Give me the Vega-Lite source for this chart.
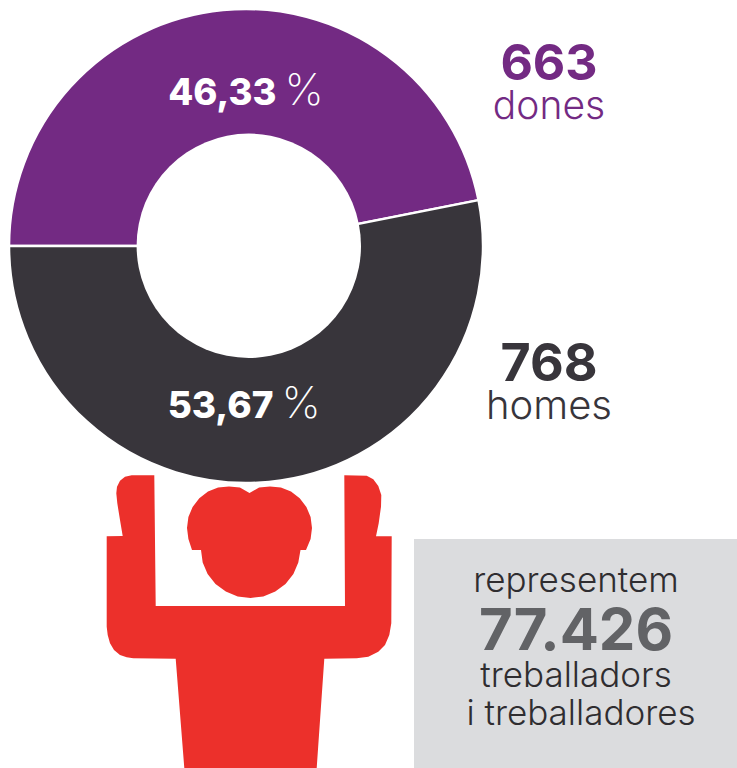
{"$schema":"https://vega.github.io/schema/vega-lite/v6.json","width":737,"height":768,"padding":0,"autosize":{"type":"none"},"background":"white","view":{"stroke":null},"config":{"text":{"font":"Inter","baseline":"alphabetic"}},
"layer":[
{"data":{"values":[{"type":"Feature","properties":{"part":"box"},"geometry":{"type":"Polygon","coordinates":[[[414,539],[737,539],[737,768],[414,768],[414,539]]]}}]},"mark":{"type":"geoshape","fill":"#DBDCDE","stroke":null},"projection":{"type":"identity","scale":1,"translate":[0,0]}},
{"data":{"values":[{"type":"Feature","properties":{"part":"body"},"geometry":{"type":"Polygon","coordinates":[[[154.3,475.3],[131.7,475.3],[125,476.7],[120,480.7],[117,486.7],[116.3,493.3],[117.3,503.3],[120,520],[122.7,536],[106.7,536.3],[106.7,626.7],[107.7,635],[110,643.3],[114,650],[120,655],[126.7,657.3],[133.3,658.3],[175.7,658.7],[184.3,768],[316.7,768],[324.3,658.7],[356.7,658.3],[368.3,656.7],[378.3,651.7],[385,645],[389.3,635],[391.3,623.3],[391.7,536.3],[376,536.3],[378.7,523.3],[381,506.7],[381.3,495],[378.3,486],[373.3,479.3],[366.7,475.7],[344.3,475.3],[345,606],[155.7,606],[154.3,475.3]]]}},{"type":"Feature","properties":{"part":"head"},"geometry":{"type":"Polygon","coordinates":[[[249.5,493],[259.1,487.6],[270,486.5],[280.9,487.4],[291,491.6],[299.7,498.3],[306.4,507],[310.6,517.1],[312,528],[310.6,538.9],[306,550],[300.5,550],[298.3,562.4],[293.4,574],[285.5,584],[275.3,591.6],[263.3,596.4],[250.5,598],[237.7,596.4],[225.8,591.6],[215.5,584],[207.6,574],[202.7,562.4],[201,550],[192,550],[188.4,538.9],[187,528],[188.4,517.1],[192.6,507],[199.3,498.3],[208,491.6],[218.1,487.4],[229,486.5],[239.9,487.6],[249.5,493]]]}}]},"mark":{"type":"geoshape","fill":"#EC302B","stroke":null},"projection":{"type":"identity","scale":1,"translate":[0,0]}},
{"data":{"values":[{"grup":"dones","share":46.9},{"grup":"homes","share":53.1}]},"mark":{"type":"arc","x":246,"y":246,"outerRadius":237,"innerRadius":0,"stroke":"white","strokeWidth":2.5},"encoding":{"theta":{"field":"share","type":"quantitative","stack":true,"scale":{"range":[-1.5708,4.7124]}},"color":{"field":"grup","type":"nominal","legend":null,"scale":{"domain":["dones","homes"],"range":["#732A83","#38353B"]}},"order":{"field":"grup"}}},
{"data":{"values":[{"part":"hole"}]},"mark":{"type":"arc","x":248.8,"y":245.8,"outerRadius":112.2,"innerRadius":0,"theta":0,"theta2":6.2832,"fill":"white"},"encoding":{}},
{"data":{"values":[{"t":"46,33"}]},"mark":{"type":"text","x":276.5,"y":105,"align":"right","fontSize":36.5,"fontWeight":800,"fill":"white"},"encoding":{"text":{"field":"t"}}},
{"data":{"values":[{"t":"%"}]},"mark":{"type":"text","x":284.5,"y":105,"align":"left","fontSize":44,"fontWeight":200,"fill":"white"},"encoding":{"text":{"field":"t"}}},
{"data":{"values":[{"t":"53,67"}]},"mark":{"type":"text","x":273.5,"y":418,"align":"right","fontSize":37,"fontWeight":800,"fill":"white"},"encoding":{"text":{"field":"t"}}},
{"data":{"values":[{"t":"%"}]},"mark":{"type":"text","x":281.5,"y":418,"align":"left","fontSize":44,"fontWeight":200,"fill":"white"},"encoding":{"text":{"field":"t"}}},
{"data":{"values":[{"t":"663"}]},"mark":{"type":"text","x":549,"y":80,"align":"center","fontSize":50,"fontWeight":700,"fill":"#732A83"},"encoding":{"text":{"field":"t"}}},
{"data":{"values":[{"t":"dones"}]},"mark":{"type":"text","x":549,"y":119,"align":"center","fontSize":39,"fontWeight":300,"fill":"#732A83"},"encoding":{"text":{"field":"t"}}},
{"data":{"values":[{"t":"768"}]},"mark":{"type":"text","x":549,"y":381,"align":"center","fontSize":52,"fontWeight":700,"fill":"#38353B"},"encoding":{"text":{"field":"t"}}},
{"data":{"values":[{"t":"homes"}]},"mark":{"type":"text","x":549,"y":419,"align":"center","fontSize":40,"fontWeight":300,"fill":"#38353B"},"encoding":{"text":{"field":"t"}}},
{"data":{"values":[{"t":"representem"}]},"mark":{"type":"text","x":576,"y":592,"align":"center","fontSize":35,"fontWeight":300,"fill":"#2F2D30"},"encoding":{"text":{"field":"t"}}},
{"data":{"values":[{"t":"77.426"}]},"mark":{"type":"text","x":576,"y":650,"align":"center","fontSize":58,"fontWeight":700,"fill":"#626366"},"encoding":{"text":{"field":"t"}}},
{"data":{"values":[{"t":"treballadors"}]},"mark":{"type":"text","x":576,"y":687,"align":"center","fontSize":35,"fontWeight":300,"fill":"#2F2D30"},"encoding":{"text":{"field":"t"}}},
{"data":{"values":[{"t":"i treballadores"}]},"mark":{"type":"text","x":581,"y":725,"align":"center","fontSize":35,"fontWeight":300,"fill":"#2F2D30"},"encoding":{"text":{"field":"t"}}}
]}
